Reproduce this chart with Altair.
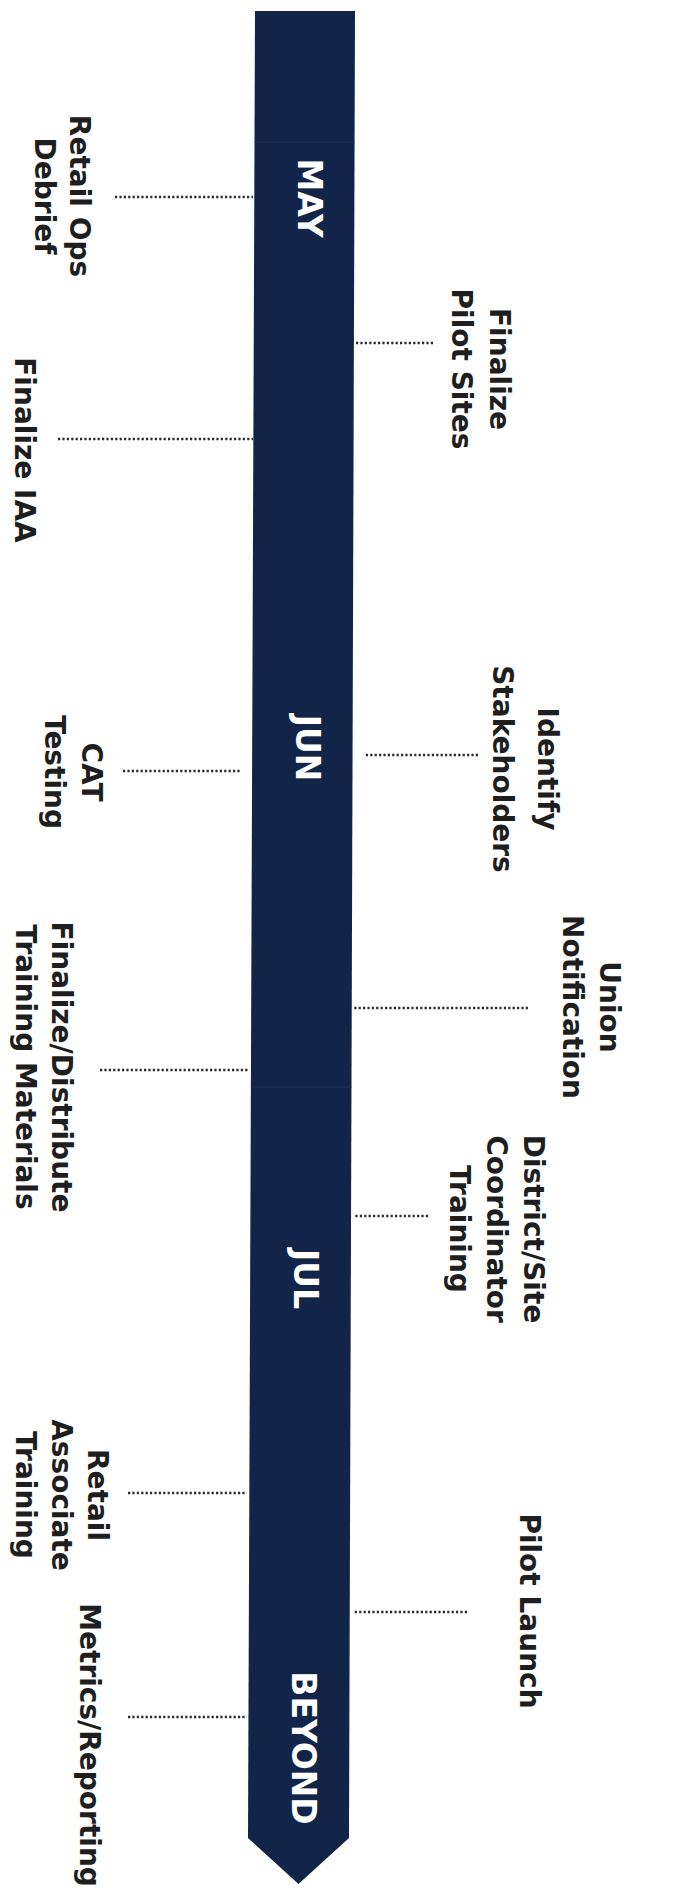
import altair as alt
import pandas as pd

# ---------------- data ----------------
months = ["MAY", "JUN", "JUL", "BEYOND"]
month_pos = [198, 748, 1279, 1748]          # position along the timeline

milestones = [
    "Retail Ops|Debrief",
    "Finalize IAA",
    "CAT|Testing",
    "Finalize/Distribute|Training Materials",
    "Retail|Associate|Training",
    "Metrics/Reporting",
    "Finalize|Pilot Sites",
    "Identify|Stakeholders",
    "Union|Notification",
    "District/Site|Coordinator|Training",
    "Pilot Launch",
]
milestone_side = ["left", "left", "left", "left", "left", "left",
                  "right", "right", "right", "right", "right"]
milestone_pos = [197, 439, 771, 1070, 1493, 1717, 343, 755, 1008, 1216, 1612]

# ---------------- layout ----------------
W, H = 660, 1882
# timeline bar outline (position along timeline, left edge, right edge)
bar_pos = [11, 1838, 1884]
bar_left = [255, 248, 298.5]
bar_right = [355, 349, 298.5]
sep_pos = [142, 1087]

conn_far = [115, 58, 123, 100, 128, 128, 433, 478, 528, 428, 467]     # outer end of connector
conn_near = [253, 253, 240, 249, 247, 247, 355, 364, 353, 354, 354]  # end near the bar
label_center = [196, 450, 772, 1067, 1495, 1745, 369, 769, 1007, 1229, 1611]
label_base = [70, 15, 82, 52, 88, 80, 490, 538, 600, 524, 520]       # first line baseline
line_gap = [35, 37, 37, 36, 36, 37, 38, 45, 37, 37, 37]


def edge(y, arr):
    # linear position of a bar edge at timeline position y
    return arr[0] + (arr[1] - arr[0]) * (y - bar_pos[0]) / (bar_pos[1] - bar_pos[0])


bar_df = pd.DataFrame({"p": bar_pos, "xl": bar_left, "xr": bar_right})
sep_df = pd.DataFrame({
    "p": sep_pos,
    "xl": [edge(p, bar_left) for p in sep_pos],
    "xr": [edge(p, bar_right) for p in sep_pos],
})
month_df = pd.DataFrame({
    "month": months,
    "p": month_pos,
    "bx": [(edge(p, bar_left) + edge(p, bar_right)) / 2 - 6.5 for p in month_pos],
})
conn_df = pd.DataFrame({
    "name": milestones,
    "p": milestone_pos,
    "x1": conn_far,
    "x2": conn_near,
})
rows = []
for i, name in enumerate(milestones):
    for j, line in enumerate(name.split("|")):
        rows.append({"line": line, "p": label_center[i],
                     "bx": label_base[i] - j * line_gap[i]})
label_df = pd.DataFrame(rows)

xs = alt.Scale(domain=[8, 8 + W], range=[0, W])
ys = alt.Scale(domain=[8, 8 + H], range=[0, H])
NAVY = "#122448"

bar = alt.Chart(bar_df).mark_area(orient="horizontal", color=NAVY).encode(
    y=alt.Y("p:Q", scale=ys, axis=None),
    x=alt.X("xl:Q", scale=xs, axis=None),
    x2="xr:Q",
)

seps = alt.Chart(sep_df).mark_rule(color="#1c2f55", strokeWidth=1).encode(
    y=alt.Y("p:Q", scale=ys, axis=None),
    x=alt.X("xl:Q", scale=xs, axis=None),
    x2="xr:Q",
)

month_text = alt.Chart(month_df).mark_text(
    angle=90, align="center", baseline="alphabetic",
    font="DejaVu Sans", fontWeight="bold", fontSize=33, color="white",
).encode(
    y=alt.Y("p:Q", scale=ys, axis=None),
    x=alt.X("bx:Q", scale=xs, axis=None),
    text="month:N",
)

conns = alt.Chart(conn_df).mark_rule(
    color="#2a2a2a", strokeWidth=2.6, strokeDash=[2.2, 2.2]
).encode(
    y=alt.Y("p:Q", scale=ys, axis=None),
    x=alt.X("x1:Q", scale=xs, axis=None),
    x2="x2:Q",
)

labels = alt.Chart(label_df).mark_text(
    angle=90, align="center", baseline="alphabetic",
    font="DejaVu Sans", fontWeight="bold", fontSize=28, color="#1e1e1e",
).encode(
    y=alt.Y("p:Q", scale=ys, axis=None),
    x=alt.X("bx:Q", scale=xs, axis=None),
    text="line:N",
)

chart = alt.layer(bar, seps, month_text, conns, labels).properties(
    width=W, height=H, padding=0,
    autosize=alt.AutoSizeParams(type="none"),
).configure_view(stroke=None)

chart.save("out.html", embed_options={"renderer": "svg", "actions": False})
